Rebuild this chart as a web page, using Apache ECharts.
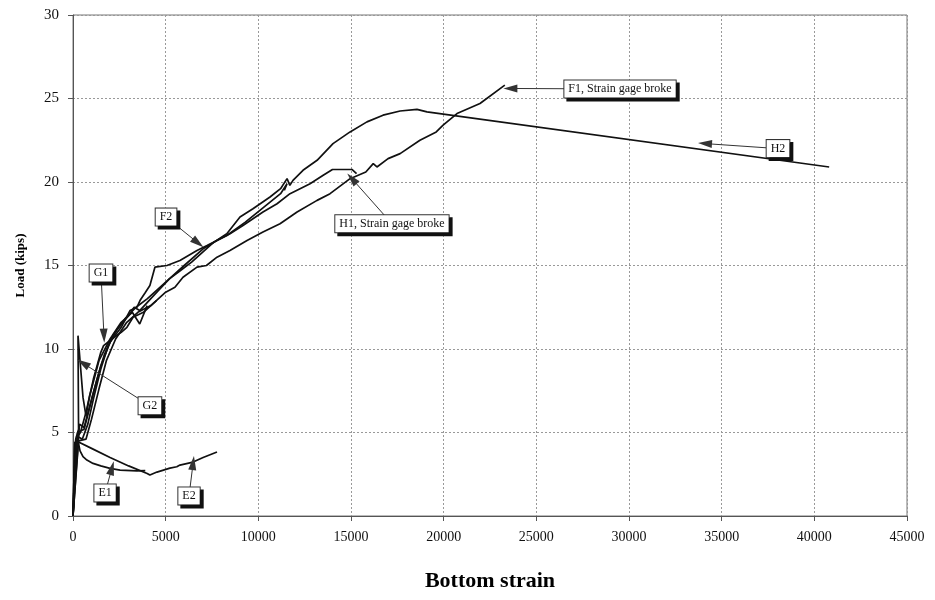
<!DOCTYPE html>
<html>
<head>
<meta charset="utf-8">
<script src="https://cdn.jsdelivr.net/npm/echarts@6/dist/echarts.min.js"></script>
<style>
html,body{margin:0;padding:0;background:#fff;}
#chart{width:935px;height:600px;}
</style>
</head>
<body>
<div id="chart"></div>
<script>
// ---- data (strain, load in kips) ----
const xTicks = [0,5000,10000,15000,20000,25000,30000,35000,40000,45000];
const yTicks = [0,5,10,15,20,25,30];

const E1 = [[0,0],[100,4.4],[270,4.5],[380,3.9],[540,3.55],[750,3.35],[1080,3.15],[1500,3.0],[2000,2.85],[2540,2.75],[3450,2.7],[3900,2.72]];
const E2 = [[0,0],[100,4.4],[270,4.45],[1000,4.05],[2000,3.5],[3000,3.0],[4000,2.55],[4150,2.45],[4530,2.63],[5230,2.87],[5600,2.95],[5770,3.05],[6480,3.23],[7020,3.5],[7770,3.83]];
const G1 = [[0,0],[150,4.6],[400,5.0],[700,6.2],[1100,8.2],[1500,9.8],[1650,10.2],[2100,10.6],[2600,11.0],[2910,11.3],[3240,11.9],[3800,12.2],[4500,12.9]];
const G2 = [[0,0],[150,4.6],[300,5.2],[270,10.8],[540,7.1],[700,6.0],[900,7.2],[1400,9.3],[2000,10.6],[2600,11.6],[3200,12.2],[3600,11.5],[4000,12.6]];
const F1 = [[0,0],[300,4.5],[700,4.6],[1000,5.8],[1400,7.6],[1800,9.3],[2300,10.6],[2900,11.6],[3500,12.2],[4200,12.6],[5000,13.4],[5500,13.7],[5935,14.3],[6690,14.9],[7200,15.0],[7770,15.5],[8470,15.9],[9390,16.5],[10250,17.0],[11170,17.5],[12090,18.2],[13170,18.9],[13870,19.3],[14950,20.2],[15800,20.6],[16200,21.1],[16400,20.9],[17000,21.4],[17650,21.7],[18720,22.5],[19600,23.0],[19970,23.4],[20720,24.1],[21960,24.7],[23300,25.8]];
const F2 = [[0,0],[350,5.5],[600,5.3],[1000,7.0],[1500,9.0],[2000,10.4],[2600,11.3],[3075,12.3],[3450,12.5],[3615,12.9],[3885,13.35],[4150,13.8],[4420,14.9],[5070,15.0],[5770,15.3],[6690,15.9],[7230,16.2],[8300,16.8],[9300,17.6],[10300,18.5],[11200,19.3],[11550,19.9],[11400,19.5]];
const H1 = [[0,0],[250,5.0],[600,5.2],[900,6.5],[1300,8.2],[1700,9.7],[2200,10.9],[2800,11.8],[3400,12.5],[4000,13.0],[4600,13.6],[5300,14.3],[6000,15.0],[7020,16.0],[7770,16.5],[8470,16.9],[9170,17.4],[10250,18.2],[11010,18.7],[11710,19.3],[12790,19.9],[13500,20.4],[14000,20.75],[15050,20.75],[15300,20.5]];
const H2 = [[0,0],[200,4.8],[500,4.6],[800,5.5],[1100,7.0],[1500,8.8],[1900,10.2],[2400,11.2],[3000,12.0],[3300,12.5],[3600,12.3],[4100,12.9],[4600,13.5],[5200,14.2],[5800,14.7],[6400,15.2],[7000,15.8],[7600,16.4],[8300,16.9],[9010,17.9],[9710,18.4],[10630,19.1],[11200,19.6],[11550,20.2],[11700,19.8],[11870,20.1],[12410,20.7],[13170,21.3],[14030,22.3],[14950,23.0],[15860,23.6],[16730,24.0],[17650,24.25],[18560,24.35],[19100,24.2],[40800,20.9]];

const seriesNames = ['E1','E2','G1','G2','F1','F2','H1','H2'];
const seriesData = [E1,E2,G1,G2,F1,F2,H1,H2];

// ---- annotations: label text, label anchor, arrow tip (data coords) ----
const noteText = ['F1, Strain gage broke','H2','H1, Strain gage broke','F2','G1','G2','E1','E2'];
const noteAt   = [[29516,25.57],[38040,22.0],[17210,17.5],[5020,17.9],[1510,14.55],[4150,6.6],[1730,1.38],[6260,1.2]];
const noteTip  = [[23600,25.6],[34100,22.3],[15050,20.2],[6745,16.35],[1670,10.8],[540,9.15],[2100,2.87],[6480,3.17]];

const serif = '"Liberation Serif","DejaVu Serif",serif';

const series = seriesData.map((d,i)=>({
  name: seriesNames[i], type:'line', data:d, showSymbol:false, smooth:false,
  lineStyle:{color:'#111', width:1.7}, z:3, silent:true
}));

series.push({
  type:'line', data:[], z:5, silent:true,
  markLine:{
    silent:true, symbol:['none','triangle'], symbolSize:[8,14],
    lineStyle:{color:'#333', width:1, type:'solid'},
    label:{show:false},
    data: noteText.map((t,i)=>[{coord:noteAt[i]},{coord:noteTip[i], symbol:'triangle'}])
  }
});

series.push({
  type:'scatter', data:[], z:10, silent:true,
  markPoint:{
    silent:true, symbol:'circle', symbolSize:1,
    itemStyle:{color:'rgba(0,0,0,0)'},
    label:{
      show:true, position:'inside', color:'#111', fontFamily:serif, fontSize:12,
      backgroundColor:'#fff', borderColor:'#333', borderWidth:1, padding:[3,4,2,4],
      shadowColor:'#111', shadowOffsetX:3, shadowOffsetY:3, shadowBlur:0
    },
    data: noteText.map((t,i)=>({coord:noteAt[i], value:t, label:{formatter:t}}))
  }
});

const chart = echarts.init(document.getElementById('chart'), null, {renderer:'canvas'});
chart.setOption({
  animation:false,
  backgroundColor:'#fff',
  grid:{left:73, right:28, top:15, bottom:84, show:true, borderColor:'#777', borderWidth:1},
  xAxis:{
    type:'value', min:0, max:45000, interval:5000,
    name:'Bottom strain', nameLocation:'middle', nameGap:54,
    nameTextStyle:{fontFamily:serif, fontWeight:'bold', fontSize:22, color:'#000'},
    axisLine:{show:true, lineStyle:{color:'#555'}},
    axisTick:{show:true, length:5, lineStyle:{color:'#555'}},
    axisLabel:{fontFamily:serif, fontSize:14, color:'#111', margin:14, formatter:v=>String(v)},
    splitLine:{show:true, lineStyle:{color:'#999', type:[2,2], width:1}}
  },
  yAxis:{
    type:'value', min:0, max:30, interval:5,
    name:'Load (kips)', nameLocation:'middle', nameGap:46, nameRotate:90,
    nameTextStyle:{fontFamily:serif, fontWeight:'bold', fontSize:13, color:'#000'},
    axisLine:{show:true, lineStyle:{color:'#555'}},
    axisTick:{show:true, length:5, lineStyle:{color:'#555'}},
    axisLabel:{fontFamily:serif, fontSize:15, color:'#111', margin:14},
    splitLine:{show:true, lineStyle:{color:'#999', type:[2,2], width:1}}
  },
  series: series
});
</script>
</body>
</html>
